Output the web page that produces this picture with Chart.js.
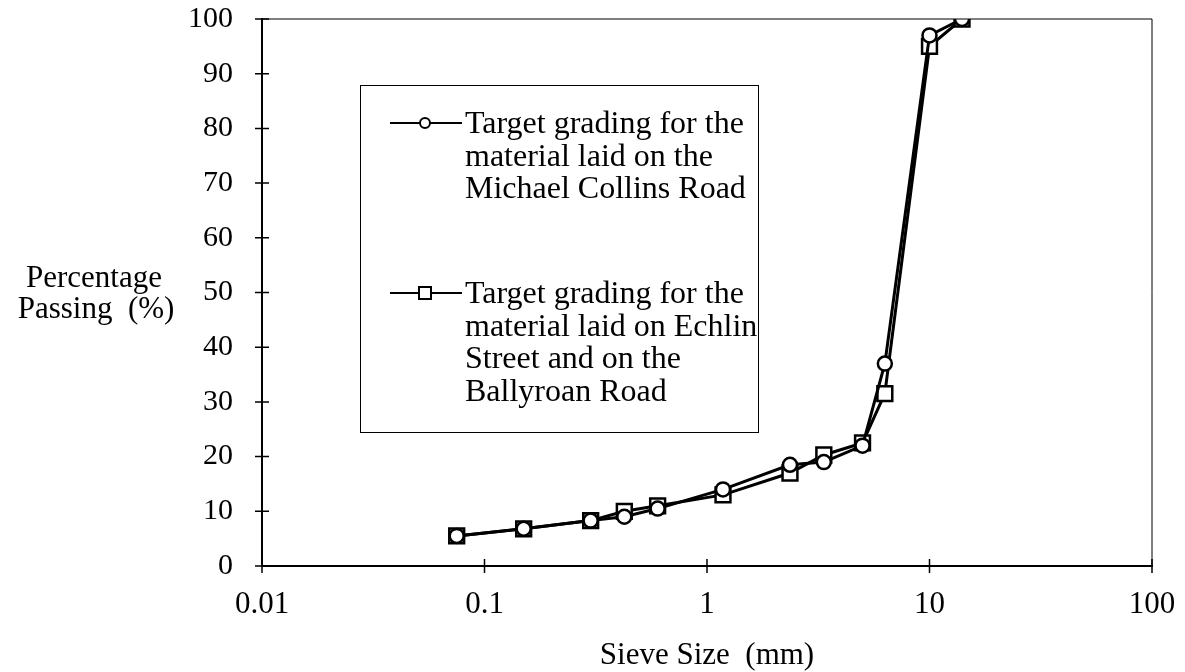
<!DOCTYPE html>
<html>
<head>
<meta charset="utf-8">
<script src="https://cdn.jsdelivr.net/npm/chart.js@4"></script>
<style>
  body { margin: 0; background: #fff; }
  #wrap { width: 1185px; height: 672px; position: relative; }
</style>
</head>
<body>
<div id="wrap"><canvas id="grading"></canvas></div>
<script>
// sieve sizes (mm) and percentage passing
const sieveSizes = [0.075, 0.15, 0.3, 0.425, 0.6, 1.18, 2.36, 3.35, 5, 6.3, 10, 14];
const michaelCollins = [5.5, 6.8, 8.3, 9, 10.5, 14, 18.5, 19, 22, 37, 97, 100];
const echlinBallyroan = [5.5, 6.8, 8.3, 10, 11, 13, 17, 20.3, 22.5, 31.5, 95, 100];
const xTickValues = [0.01, 0.1, 1, 10, 100];
const xTickLabels = ["0.01", "0.1", "1", "10", "100"];
const legendLines = [
    ["Target grading for the", "material laid on the", "Michael Collins Road"],
    ["Target grading for the", "material laid on Echlin", "Street and on the", "Ballyroan Road"]
];

const serif = "'Liberation Serif', 'Times New Roman', serif";

function toPoints(values) {
    return sieveSizes.map((s, i) => ({ x: s, y: values[i] }));
}

// legend box, crossing tick marks, frame and y title
const extras = {
    id: "extras",
    afterDraw(chart) {
        const ctx = chart.ctx;
        const area = chart.chartArea;
        const xs = chart.scales.x;
        const ys = chart.scales.y;
        ctx.save();
        ctx.strokeStyle = "#000";

        // thin frame on top and right
        ctx.lineWidth = 1;
        ctx.beginPath();
        ctx.moveTo(area.left, area.top);
        ctx.lineTo(area.right, area.top);
        ctx.lineTo(area.right, area.bottom);
        ctx.stroke();

        // ticks crossing the axes
        ctx.lineWidth = 1.5;
        ctx.beginPath();
        xTickValues.forEach(v => {
            const px = xs.getPixelForValue(v);
            ctx.moveTo(px, area.bottom - 7);
            ctx.lineTo(px, area.bottom + 7);
        });
        for (let v = 0; v <= 100; v += 10) {
            const py = ys.getPixelForValue(v);
            ctx.moveTo(area.left - 7, py);
            ctx.lineTo(area.left + 7, py);
        }
        ctx.stroke();

        // y axis title, horizontal
        ctx.fillStyle = "#000";
        ctx.font = "31px " + serif;
        ctx.textAlign = "center";
        ctx.textBaseline = "alphabetic";
        ctx.fillText("Percentage", 94, 287);
        ctx.fillText("Passing  (%)", 96, 318);

        // legend box
        ctx.lineWidth = 1;
        ctx.strokeRect(360.5, 85.5, 398, 347);
        const rows = [123, 293];
        chart.data.datasets.forEach((ds, i) => {
            const y = rows[i];
            ctx.lineWidth = 2;
            ctx.beginPath();
            ctx.moveTo(390, y);
            ctx.lineTo(462, y);
            ctx.stroke();
            ctx.fillStyle = "#fff";
            ctx.beginPath();
            if (ds.pointStyle === "circle") {
                ctx.arc(425, y, 5, 0, Math.PI * 2);
            } else {
                ctx.rect(419, y - 6, 12, 12);
            }
            ctx.fill();
            ctx.stroke();
            ctx.fillStyle = "#000";
            ctx.font = "32px " + serif;
            ctx.textAlign = "left";
            legendLines[i].forEach((t, j) => {
                ctx.fillText(t, 465, y + 10 + j * 32.5);
            });
        });
        ctx.restore();
    }
};

new Chart(document.getElementById("grading"), {
    type: "line",
    data: {
        datasets: [{
            label: "Michael Collins Road",
            data: toPoints(michaelCollins),
            borderColor: "#000",
            borderWidth: 3,
            pointStyle: "circle",
            pointRadius: 7,
            pointBorderWidth: 2.5,
            pointBackgroundColor: "#fff",
            pointBorderColor: "#000"
        }, {
            label: "Echlin Street and Ballyroan Road",
            data: toPoints(echlinBallyroan),
            borderColor: "#000",
            borderWidth: 3,
            pointStyle: "rect",
            pointRadius: 10.5,
            pointBorderWidth: 2.5,
            pointBackgroundColor: "#fff",
            pointBorderColor: "#000"
        }]
    },
    options: {
        responsive: true,
        maintainAspectRatio: false,
        animation: false,
        layout: { padding: { top: 19, right: 33, left: 0, bottom: 0 } },
        plugins: { legend: { display: false }, tooltip: { enabled: false } },
        scales: {
            x: {
                type: "logarithmic",
                min: 0.01,
                max: 100,
                afterBuildTicks: scale => {
                    scale.ticks = xTickValues.map(v => ({ value: v }));
                },
                afterFit: scale => {
                    scale.height = 106;
                    scale.paddingLeft = 0;
                    scale.paddingRight = 0;
                },
                grid: { display: false },
                border: { display: true, color: "#000", width: 2 },
                ticks: {
                    color: "#000",
                    padding: 12,
                    maxRotation: 0,
                    autoSkip: false,
                    font: { family: serif, size: 31 },
                    callback: (v) => {
                        const i = xTickValues.indexOf(v);
                        return i >= 0 ? xTickLabels[i] : "";
                    }
                },
                title: {
                    display: true,
                    text: "Sieve Size  (mm)",
                    color: "#000",
                    font: { family: serif, size: 31, lineHeight: 1 },
                    padding: { top: 0, bottom: 1 }
                }
            },
            y: {
                min: 0,
                max: 100,
                afterFit: scale => {
                    scale.width = 262;
                    scale.paddingTop = 0;
                    scale.paddingBottom = 0;
                },
                grid: { display: false },
                border: { display: true, color: "#000", width: 2 },
                ticks: {
                    stepSize: 10,
                    color: "#000",
                    padding: 21,
                    font: { family: serif, size: 30 }
                }
            }
        }
    },
    plugins: [extras]
});
</script>
</body>
</html>
